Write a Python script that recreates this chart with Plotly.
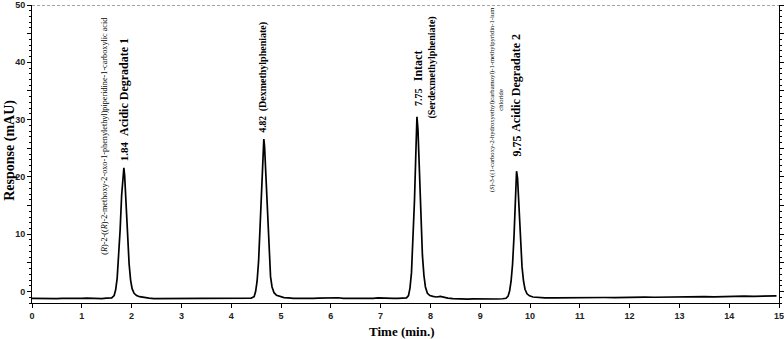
import plotly.graph_objects as go

# Chromatogram trace (time in min, response in mAU)
time = [0.0, 0.1, 0.2, 0.3, 0.4, 0.5, 0.6, 0.7, 0.8, 0.9, 1.0, 1.1, 1.2, 1.3, 1.4, 1.5, 1.6,
        1.65, 1.68, 1.71, 1.74, 1.77, 1.80, 1.83, 1.845, 1.86, 1.89, 1.92, 1.95, 1.98, 2.01, 2.05,
        2.10, 2.16, 2.25, 2.35, 2.45,
        2.6, 2.7, 2.8, 2.9, 3.0, 3.1, 3.2, 3.3, 3.4, 3.5, 3.6, 3.7, 3.8, 3.9, 4.0, 4.1, 4.2, 4.3, 4.4,
        4.46, 4.49, 4.52, 4.55, 4.58, 4.61, 4.64, 4.655, 4.67, 4.70, 4.73, 4.76, 4.79, 4.82, 4.86,
        4.91, 4.98, 5.06, 5.15, 5.25,
        5.35, 5.45, 5.55, 5.65, 5.75, 5.85, 5.95, 6.05, 6.15, 6.25, 6.35, 6.45, 6.55, 6.65, 6.75,
        6.85, 6.95, 7.05, 7.15, 7.25, 7.35, 7.45, 7.52,
        7.56, 7.59, 7.62, 7.65, 7.68, 7.71, 7.73, 7.75, 7.78, 7.81, 7.84, 7.87, 7.90, 7.94, 7.99,
        8.05, 8.12, 8.20, 8.26, 8.35, 8.45, 8.55,
        8.65, 8.75, 8.85, 8.95, 9.05, 9.15, 9.25, 9.35, 9.45, 9.52,
        9.56, 9.59, 9.62, 9.65, 9.68, 9.71, 9.73, 9.75, 9.78, 9.81, 9.84, 9.87, 9.90, 9.94, 9.99,
        10.06, 10.15, 10.3,
        10.5, 10.7, 10.9, 11.1, 11.3, 11.5, 11.7, 11.9, 12.1, 12.3, 12.5, 12.7, 12.9, 13.1, 13.3,
        13.5, 13.7, 13.9, 14.1, 14.3, 14.5, 14.7, 14.85, 14.95]
response = [-1.20, -1.22, -1.15, -1.20, -1.17, -1.23, -1.18, -1.20, -1.16, -1.22, -1.20, -1.15, -1.20, -1.18, -1.22, -1.16, -1.10,
            -0.7, 0.3, 2.3, 5.8, 10.8, 16.8, 20.8, 21.6, 20.3, 15.3, 9.3, 4.8, 2.0, 0.5, -0.3,
            -0.7, -0.9, -1.05, -1.15, -1.25,
            -1.25, -1.22, -1.25, -1.20, -1.23, -1.18, -1.22, -1.17, -1.20, -1.16, -1.20, -1.17, -1.22, -1.18, -1.20, -1.17, -1.20, -1.18, -1.15,
            -0.9, 0.0, 1.8, 5.3, 11.3, 18.8, 24.8, 26.6, 25.3, 19.3, 11.8, 5.8, 2.6, 0.8, -0.2,
            -0.65, -0.9, -1.05, -1.1, -1.2,
            -1.17, -1.22, -1.18, -1.20, -1.15, -1.12, -1.08, -1.12, -1.08, -1.18, -1.20, -1.20, -1.17, -1.20, -1.18,
            -1.20, -1.10, -1.17, -1.20, -1.18, -1.20, -1.17, -1.10,
            -0.7, 0.6, 3.3, 8.3, 15.8, 24.8, 30.5, 28.3, 20.8, 12.3, 6.3, 2.8, 0.8, -0.3, -0.7,
            -0.85, -0.95, -0.85, -1.0, -1.15, -1.25, -1.30,
            -1.28, -1.31, -1.28, -1.30, -1.28, -1.31, -1.28, -1.30, -1.26, -1.18,
            -0.8, 0.1, 1.8, 4.8, 9.8, 16.8, 21.0, 19.8, 14.3, 8.3, 4.3, 1.8, 0.4, -0.4, -0.75,
            -0.95, -1.05, -1.12,
            -1.12, -1.08, -1.10, -1.05, -1.08, -1.04, -1.06, -1.01, -1.03, -0.98, -1.0, -0.96, -0.98, -0.93, -0.95,
            -0.90, -0.92, -0.84, -0.87, -0.80, -0.83, -0.76, -0.79, -0.77]

x_ticks = list(range(0, 16))
y_ticks = [0, 5, 10, 15, 20, 25, 30, 35, 40, 45, 50]
y_ticktext = ["0", "", "10", "", "20", "", "30", "", "40", "", "50"]

serif = "Liberation Serif"
sans = "Liberation Sans"

fig = go.Figure()
fig.add_trace(go.Scatter(x=time, y=response, mode="lines",
                         line=dict(color="black", width=1.7), showlegend=False,
                         hoverinfo="skip"))

ann = []
def rot(text, x, y, size, bold=True, yanchor="bottom"):
    ann.append(dict(text=("<b>%s</b>" % text) if bold else text, x=x, y=y,
                    xref="x", yref="y", showarrow=False, textangle=-90,
                    xanchor="center", yanchor=yanchor, borderpad=0,
                    font=dict(family=serif, size=size, color="black")))

rot("1.84", 1.85, 22.6, 11)
rot("Acidic Degradate 1", 1.85, 27.0, 12)
rot("(<i>R</i>)-2-((<i>R</i>)-2-methoxy-2-oxo-1-phenylethyl)piperidine-1-carboxylic acid",
    1.466, 27.0, 8.2, bold=False, yanchor="middle")
rot("4.82", 4.64, 27.5, 9.5)
rot("(Dexmethylpheniate)", 4.64, 31.2, 10)
rot("7.75", 7.75, 32.2, 10)
rot("Intact", 7.75, 36.6, 12)
rot("(Serdexmethylpheniate)", 8.03, 30.0, 10)
rot("9.75", 9.72, 23.3, 12)
rot("Acidic Degradate 2", 9.72, 27.7, 12)
rot("(<i>S</i>)-3-((1-carboxy-2-hydroxyethyl)carbamoyl)-1-methylpyridin-1-ium<br>chloride",
    9.32, 33.4, 6.6, bold=False, yanchor="middle")

ann.append(dict(text="<b>Time (min.)</b>", x=0.495, y=(303.5 - 332) / 298.5,
                xref="paper", yref="paper", showarrow=False,
                xanchor="center", yanchor="middle",
                font=dict(family=serif, size=13, color="black")))
ann.append(dict(text="<b>Response (mAU)</b>", x=-0.0295, y=0.514, xref="paper", yref="paper",
                showarrow=False, textangle=-90, xanchor="center", yanchor="middle",
                font=dict(family=serif, size=14, color="black")))

fig.update_layout(
    width=784, height=339,
    margin=dict(l=32, r=5, t=5, b=35.5, autoexpand=False),
    paper_bgcolor="white", plot_bgcolor="white",
    annotations=ann,
    shapes=[dict(type="line", xref="paper", yref="y", x0=0, x1=1, y0=50, y1=50,
                 line=dict(color="#888888", width=1.5, dash="3px,2px"))],
    xaxis=dict(range=[0, 15], tickvals=x_ticks, ticks="outside", ticklen=4,
               tickcolor="black", showline=True, linecolor="black", linewidth=1,
               showgrid=False, zeroline=False, automargin=False,
               ticklabeloverflow="allow",
               tickfont=dict(family=sans, size=9, color="#222222", weight="bold")),
    yaxis=dict(range=[-2.0, 50], tickvals=y_ticks, ticktext=y_ticktext,
               ticks="outside", ticklen=4, tickcolor="black", showline=True,
               linecolor="black", linewidth=1, mirror="ticks",
               showgrid=False, zeroline=False, automargin=False,
               ticklabeloverflow="allow",
               minor=dict(dtick=1, ticklen=2, tickcolor="black", ticks="outside"),
               tickfont=dict(family=sans, size=9, color="#222222", weight="bold")),
)

fig.write_html("out.html", config={"displayModeBar": False},
               post_script="document.body.style.margin='0px';")
